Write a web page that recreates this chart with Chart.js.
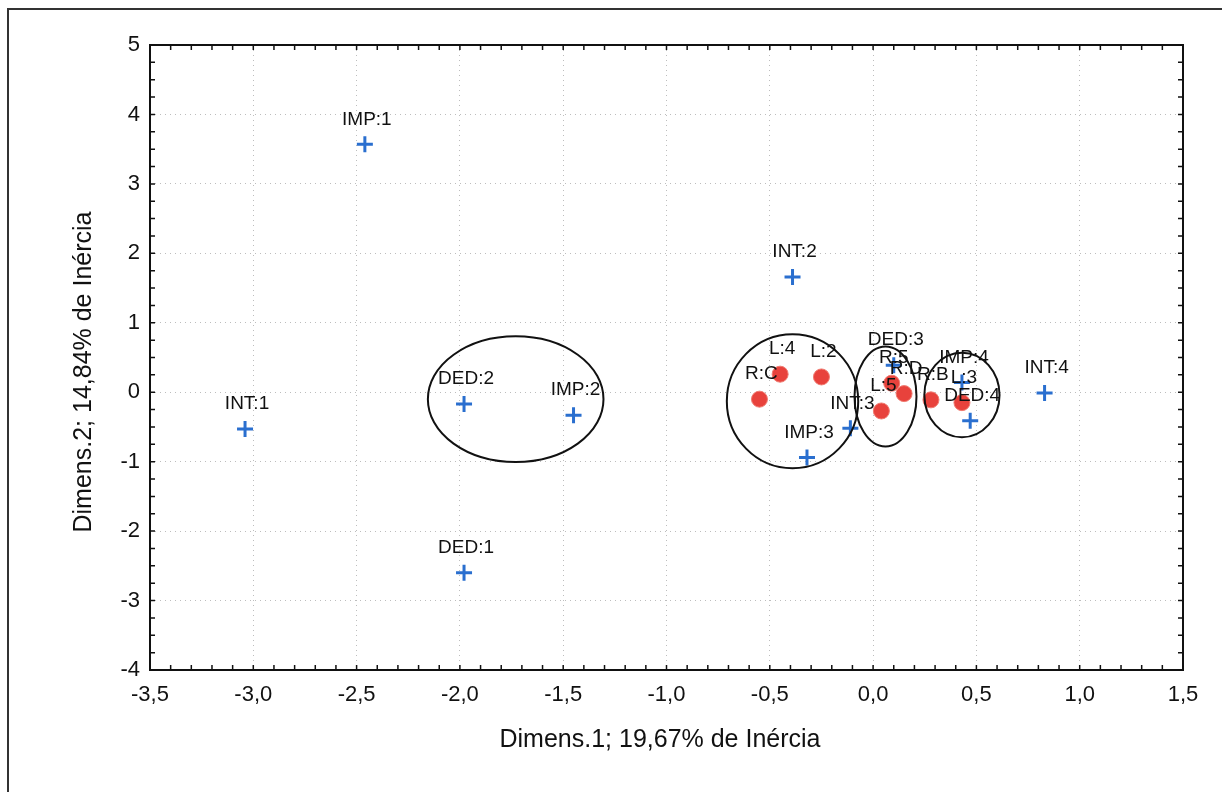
<!DOCTYPE html>
<html>
<head>
<meta charset="utf-8">
<script src="https://cdn.jsdelivr.net/npm/chart.js@4.4.1/dist/chart.umd.min.js"></script>
<style>
  html, body { margin: 0; padding: 0; background: #fff; }
  #grafico { display: block; }
</style>
</head>
<body>
<canvas id="grafico" width="1222" height="792"></canvas>
<script>
// DATI
const xTicks = [-3.5, -3.0, -2.5, -2.0, -1.5, -1.0, -0.5, 0.0, 0.5, 1.0, 1.5];
const yTicks = [-4, -3, -2, -1, 0, 1, 2, 3, 4, 5];

// categorie colonne (croci blu)
const bluLabels = ['IMP:1', 'IMP:2', 'IMP:3', 'IMP:4', 'INT:1', 'INT:2', 'INT:3', 'INT:4', 'DED:1', 'DED:2', 'DED:3', 'DED:4'];
const bluX = [-2.46, -1.45, -0.32, 0.43, -3.04, -0.39, -0.11, 0.83, -1.98, -1.98, 0.10, 0.47];
const bluY = [3.57, -0.33, -0.94, 0.14, -0.53, 1.66, -0.52, -0.01, -2.60, -0.17, 0.39, -0.41];

// categorie righe (cerchi rossi)
const rossoLabels = ['R:C', 'L:4', 'L:2', 'L:5', 'R:5', 'R:D', 'R:B', 'L:3'];
const rossoX = [-0.55, -0.45, -0.25, 0.04, 0.09, 0.15, 0.28, 0.43];
const rossoY = [-0.10, 0.26, 0.22, -0.27, 0.13, -0.02, -0.11, -0.15];

// ellissi (centro x, centro y, raggio x, raggio y) in unità dei dati
const ellissiCx = [-1.73, -0.39, 0.06, 0.43];
const ellissiCy = [-0.10, -0.13, -0.06, -0.04];
const ellissiRx = [0.425, 0.318, 0.150, 0.182];
const ellissiRy = [0.905, 0.965, 0.720, 0.610];

const titoloX = 'Dimens.1; 19,67% de Inércia';
const titoloY = 'Dimens.2; 14,84% de Inércia';

const canvas = document.getElementById('grafico');
const FONT = '"Liberation Sans", Arial, sans-serif';
const fmt = v => (v < 0 ? '-' : '') + Math.abs(v).toFixed(1).replace('.', ',');

// plugin cornice, tacche, ellissi, etichette
const decorazioni = {
  id: 'decorazioni',
  beforeDraw(chart) {
    const ctx = chart.ctx;
    ctx.save();
    ctx.fillStyle = '#fff';
    ctx.fillRect(0, 0, chart.width, chart.height);
    ctx.strokeStyle = '#333';
    ctx.lineWidth = 2;
    ctx.strokeRect(8, 9, 1400, 1000);
    ctx.restore();
  },
  afterDatasetsDraw(chart) {
    const ctx = chart.ctx;
    const xs = chart.scales.x;
    const ys = chart.scales.y;
    const a = chart.chartArea;
    ctx.save();

    // cornice area grafico
    ctx.strokeStyle = '#111';
    ctx.lineWidth = 2;
    ctx.strokeRect(a.left, a.top, a.right - a.left, a.bottom - a.top);

    // tacche interne
    ctx.lineWidth = 1.5;
    ctx.beginPath();
    for (let i = 0; i <= 50; i++) {
      const px = xs.getPixelForValue(-3.5 + i * 0.1);
      ctx.moveTo(px, a.bottom); ctx.lineTo(px, a.bottom - 5);
      ctx.moveTo(px, a.top); ctx.lineTo(px, a.top + 5);
    }
    for (let i = 0; i <= 36; i++) {
      const py = ys.getPixelForValue(-4 + i * 0.25);
      ctx.moveTo(a.left, py); ctx.lineTo(a.left + 5, py);
      ctx.moveTo(a.right, py); ctx.lineTo(a.right - 5, py);
    }
    ctx.stroke();

    // ellissi
    ctx.strokeStyle = '#111';
    ctx.lineWidth = 2;
    ellissiCx.forEach((cx, i) => {
      const px = xs.getPixelForValue(cx);
      const py = ys.getPixelForValue(ellissiCy[i]);
      const rx = Math.abs(xs.getPixelForValue(cx + ellissiRx[i]) - px);
      const ry = Math.abs(ys.getPixelForValue(ellissiCy[i] + ellissiRy[i]) - py);
      ctx.beginPath();
      ctx.ellipse(px, py, rx, ry, 0, 0, Math.PI * 2);
      ctx.stroke();
    });

    // etichette punti
    ctx.fillStyle = '#111';
    ctx.font = '19px ' + FONT;
    ctx.textAlign = 'center';
    ctx.textBaseline = 'middle';
    chart.data.datasets.forEach(ds => {
      ds.data.forEach(p => {
        const px = xs.getPixelForValue(p.x);
        const py = ys.getPixelForValue(p.y);
        ctx.fillText(p.label, px + 2, py - 25);
      });
    });

    // titoli assi
    ctx.font = '25px ' + FONT;
    ctx.fillText(titoloX, 660, 740);
    ctx.translate(84, 372);
    ctx.rotate(-Math.PI / 2);
    ctx.fillText(titoloY, 0, 0);
    ctx.restore();
  }
};

const chart = new Chart(canvas, {
  type: 'scatter',
  data: {
    datasets: [
      {
        label: 'Righe',
        data: rossoX.map((x, i) => ({ x: x, y: rossoY[i], label: rossoLabels[i] })),
        pointStyle: 'circle',
        pointRadius: 8,
        backgroundColor: '#e8423c',
        borderColor: '#f07a70',
        borderWidth: 1
      },
      {
        label: 'Colonne',
        data: bluX.map((x, i) => ({ x: x, y: bluY[i], label: bluLabels[i] })),
        pointStyle: 'cross',
        pointRadius: 8,
        borderColor: '#2a6fcf',
        borderWidth: 3
      }
    ]
  },
  options: {
    responsive: false,
    animation: false,
    devicePixelRatio: 1,
    layout: { padding: { left: 0, top: 45, right: 39, bottom: 0 } },
    plugins: {
      legend: { display: false },
      tooltip: { enabled: false }
    },
    scales: {
      x: {
        type: 'linear',
        min: -3.5,
        max: 1.5,
        afterBuildTicks: s => { s.ticks = xTicks.map(v => ({ value: v })); },
        afterFit: s => { s.height = 122; },
        grid: { color: '#bdbdbd', drawTicks: false },
        border: { display: false, dash: [1, 4] },
        ticks: {
          padding: 12,
          color: '#111',
          font: { size: 22, family: FONT },
          callback: v => fmt(v)
        }
      },
      y: {
        type: 'linear',
        min: -4,
        max: 5,
        afterBuildTicks: s => { s.ticks = yTicks.map(v => ({ value: v })); },
        afterFit: s => { s.width = 150; },
        grid: { color: '#bdbdbd', drawTicks: false },
        border: { display: false, dash: [1, 4] },
        ticks: {
          padding: 10,
          color: '#111',
          font: { size: 22, family: FONT },
          callback: v => (v < 0 ? '-' : '') + Math.abs(v)
        }
      }
    }
  },
  plugins: [decorazioni]
});
</script>
</body>
</html>
